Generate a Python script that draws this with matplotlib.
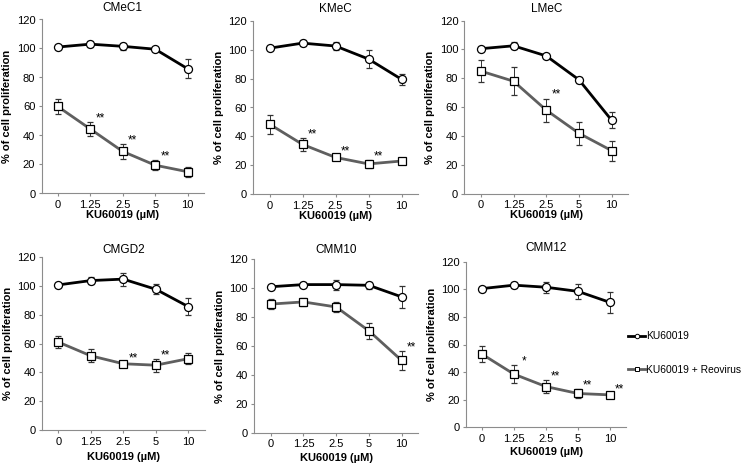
import numpy as np
import matplotlib
matplotlib.use("Agg")
import matplotlib.pyplot as plt
from matplotlib.lines import Line2D

plt.rcParams['font.family'] = ['Liberation Sans', 'DejaVu Sans']

doses = ['0', '1.25', '2.5', '5', '10']
cells = ['CMeC1', 'KMeC', 'LMeC', 'CMGD2', 'CMM10', 'CMM12']
series_names = ['KU60019', 'KU60019 + Reovirus']

# KU60019 alone (mean, sd)
ku_mean = [
    [101, 103, 101.5, 99.5, 86],
    [101, 104.5, 102.5, 93.5, 79.5],
    [100.5, 102.5, 95.5, 79, 51],
    [100.5, 103.5, 104.5, 97.5, 85.5],
    [101, 102.5, 102.5, 102, 94],
    [100.5, 103, 101.5, 98.5, 90.5],
]
ku_err = [
    [1, 2, 2.5, 1, 6.5],
    [1, 2.3, 2.7, 6, 4],
    [1, 2.5, 1, 2, 5.5],
    [1, 2.5, 4.5, 3.5, 6],
    [1, 2, 3.5, 2.5, 7.5],
    [1, 2, 4, 5.5, 7.5],
]
# KU60019 + Reovirus (mean, sd)
reo_mean = [
    [60, 44.5, 29, 19.5, 15],
    [48.5, 34.5, 25.5, 21, 23],
    [85, 78, 58, 42, 30],
    [61, 51.5, 46, 45, 49.5],
    [89, 90.5, 87, 70.5, 50],
    [53, 38.5, 29.5, 24.5, 23.5],
]
reo_err = [
    [5, 5, 5, 3.5, 3.5],
    [6.5, 4.5, 1.5, 2.5, 1.5],
    [7.5, 9.5, 8, 8, 7],
    [4, 4.5, 1, 4.5, 3.7],
    [3.5, 3, 3.5, 5.5, 6.5],
    [6, 6.5, 4.5, 3.5, 1.5],
]
# significance marks: dose index -> label
stars = [
    {1: '**', 2: '**', 3: '**'},
    {1: '**', 2: '**', 3: '**'},
    {2: '**'},
    {2: '**', 3: '**'},
    {4: '**'},
    {1: '*', 2: '**', 3: '**', 4: '**'},
]

W, H = 747, 465
# pixel layout: left, right, y of 0, y of 120, title pad, xlabel pad
boxes = [
    (41.5, 204, 193.5, 19.5, 6, 0),
    (253, 418, 194.3, 20.7, 6, 0),
    (464.5, 628, 194, 20.5, 6, 0),
    (42, 204.5, 430.3, 256.7, 3, 4),
    (254.3, 418, 432.7, 259.3, 4.5, 3),
    (466, 626, 427.3, 261.7, 7.5, 2.5),
]

fig = plt.figure(figsize=(W / 100, H / 100), dpi=100)
x = np.arange(len(doses))
spine_c = '#8c8c8c'
gray = '#5f5f5f'

for k, name in enumerate(cells):
    l, r, y0, y1, tpad, xpad = boxes[k]
    ax = fig.add_axes([l / W, 1 - y0 / H, (r - l) / W, (y0 - y1) / H])

    ax.errorbar(x, ku_mean[k], yerr=ku_err[k], color='black', lw=2,
                marker='o', ms=5.8, mfc='white', mec='black', mew=0.9,
                ecolor='#333333', elinewidth=0.7, capsize=2, capthick=0.7)
    ax.errorbar(x, reo_mean[k], yerr=reo_err[k], color=gray, lw=2,
                marker='s', ms=5.8, mfc='white', mec='black', mew=0.9,
                ecolor='#333333', elinewidth=0.7, capsize=2, capthick=0.7)

    for i, s in stars[k].items():
        ax.text(i + 0.3, reo_mean[k][i] + reo_err[k][i] + 0.5, s,
                ha='center', va='baseline', fontsize=8.5)

    ax.set_xlim(-0.5, len(doses) - 0.5)
    ax.set_ylim(0, 120)
    ax.set_yticks(np.arange(0, 121, 20))
    ax.set_xticks(x)
    ax.set_xticklabels(doses)
    ax.spines['top'].set_visible(False)
    ax.spines['right'].set_visible(False)
    for sp in ('left', 'bottom'):
        ax.spines[sp].set_color(spine_c)
        ax.spines[sp].set_linewidth(0.8)
    ax.tick_params(axis='both', length=2.5, width=0.8, color=spine_c,
                   labelsize=8, pad=2)
    ax.set_title(name, fontsize=8.5, pad=tpad)
    ax.set_ylabel('% of cell proliferation', fontsize=8, fontweight='bold',
                  labelpad=3)
    ax.set_xlabel('KU60019 (µM)', fontsize=8, fontweight='bold', labelpad=xpad)

handles = [
    Line2D([], [], color='black', lw=2, marker='o', ms=3.2,
           mfc='white', mec='black', mew=0.7),
    Line2D([], [], color=gray, lw=2, marker='s', ms=3.2,
           mfc='white', mec='black', mew=0.7),
]
fig.legend(handles, series_names, loc='center left',
           bbox_to_anchor=(628 / W, 1 - 353 / H), frameon=False,
           fontsize=7.4, handlelength=1.7, handletextpad=0.1,
           labelspacing=2.3, borderaxespad=0, borderpad=0)

fig.savefig('out.png', dpi=100)
